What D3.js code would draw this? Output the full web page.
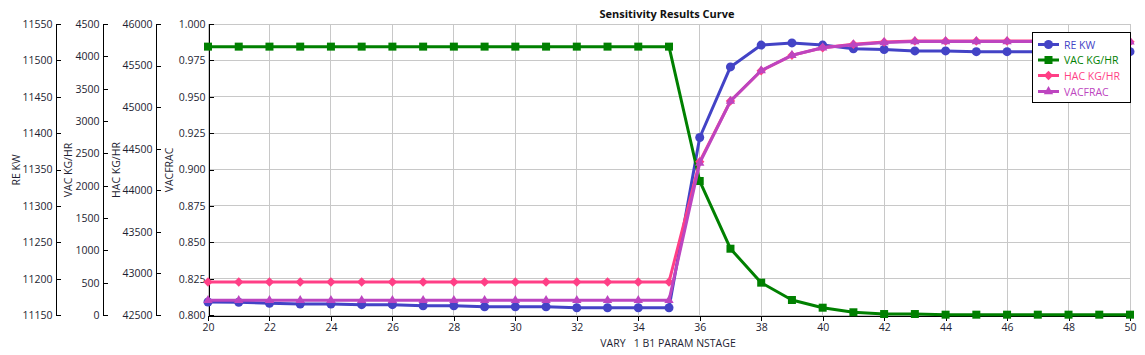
<!DOCTYPE html>
<html>
<head>
<meta charset="utf-8">
<script src="https://cdn.jsdelivr.net/npm/d3@7/dist/d3.min.js"></script>
<style>
  html, body { margin: 0; padding: 0; background: #fff; }
  svg { display: block; font-family: "Open Sans", "Noto Sans", sans-serif; }
</style>
</head>
<body>
<svg id="chart" width="1145" height="355"></svg>
<script>
// ---- data ----
const stages = [20,21,22,23,24,25,26,27,28,29,30,31,32,33,34,35,36,37,38,39,40,41,42,43,44,45,46,47,48,49,50];
const reKW = [11167.9,11167.5,11166.1,11165.1,11165.1,11164.2,11164.2,11162.8,11162.8,11161.4,11161.4,11161.4,11160.0,11160.0,11160.0,11160.0,
              11394,11491,11521,11524,11521,11516,11515,11513,11513,11512,11512,11512,11512,11512,11512];
const vacKG = [4150,4150,4150,4150,4150,4150,4150,4150,4150,4150,4150,4150,4150,4150,4150,4150,
               2072,1025,500,232,113,42,15,15,5,5,5,5,5,5,5];
const hacKG = [42897,42897,42897,42897,42897,42897,42897,42897,42897,42897,42897,42897,42897,42897,42897,42897,
               44344,45074,45438,45623,45715,45756,45784,45796,45796,45796,45796,45796,45796,45796,45787];
const vacFrac = [0.8101,0.8101,0.8101,0.8101,0.8101,0.8101,0.8101,0.8101,0.8101,0.8101,0.8101,0.8101,0.8101,0.8101,0.8101,0.8101,
                 0.9045,0.947,0.968,0.9785,0.9837,0.9858,0.9873,0.9880,0.9880,0.9880,0.9880,0.9880,0.9880,0.9880,0.9878];
const xTicks = [20,22,24,26,28,30,32,34,36,38,40,42,44,46,48,50];
const reTicks = [11150,11200,11250,11300,11350,11400,11450,11500,11550];
const vacTicks = [0,500,1000,1500,2000,2500,3000,3500,4000,4500];
const hacTicks = [42500,43000,43500,44000,44500,45000,45500,46000];
const fracTicks = [0.800,0.825,0.850,0.875,0.900,0.925,0.950,0.975,1.000];
const seriesNames = ["RE KW","VAC KG/HR","HAC KG/HR","VACFRAC"];
const title = "Sensitivity Results Curve";
const xTitle = "VARY   1 B1 PARAM NSTAGE";

// ---- layout ----
const L = 208, R = 1130, T = 24, B = 315;
const svg = d3.select("#chart");
const x = d3.scaleLinear().domain([20,50]).range([L,R]);
const yRE = d3.scaleLinear().domain([11150,11550]).range([B,T]);
const yVAC = d3.scaleLinear().domain([0,4500]).range([B,T]);
const yHAC = d3.scaleLinear().domain([42500,46000]).range([B,T]);
const yFrac = d3.scaleLinear().domain([0.8,1.0]).range([B,T]);

const gridColor = "#c8c8c8";
const textColor = "#1e1e32";
const fs = 10.5;

// grid
const grid = svg.append("g");
grid.selectAll("line.h").data(fracTicks).join("line")
  .attr("x1", L).attr("x2", R)
  .attr("y1", d => yFrac(d)).attr("y2", d => yFrac(d))
  .attr("stroke", gridColor).attr("stroke-width", 1).attr("shape-rendering","crispEdges");
grid.selectAll("line.v").data(xTicks).join("line")
  .attr("y1", T).attr("y2", B)
  .attr("x1", d => x(d)).attr("x2", d => x(d))
  .attr("stroke", gridColor).attr("stroke-width", 1).attr("shape-rendering","crispEdges");

// y axes
function yAxis(scale, ticks, xpos, fmt, label, lx) {
  const g = svg.append("g").attr("transform", `translate(${xpos},0)`)
    .call(d3.axisLeft(scale).tickValues(ticks).tickSize(-5).tickSizeOuter(0).tickPadding(3).tickFormat(fmt));
  g.select(".domain").attr("stroke", "#000").attr("shape-rendering","crispEdges");
  g.selectAll(".tick line").attr("stroke", "#000").attr("shape-rendering","crispEdges");
  g.selectAll("text").attr("fill", textColor).style("font-size", fs + "px").style("font-family", "'Open Sans', sans-serif");
  svg.append("text")
    .attr("transform", `translate(${lx},170) rotate(-90)`)
    .attr("text-anchor", "middle").attr("dominant-baseline", "central")
    .attr("fill", textColor).style("font-size", fs + "px")
    .text(label);
}
yAxis(yRE, reTicks, 55.5, d3.format("d"), "RE KW", 16);
yAxis(yVAC, vacTicks, 102.5, d3.format("d"), "VAC KG/HR", 68);
yAxis(yHAC, hacTicks, 155.5, d3.format("d"), "HAC KG/HR", 116);
yAxis(yFrac, fracTicks, L + 0.5, d3.format(".3f"), "VACFRAC", 169);

// x axis
const gx = svg.append("g").attr("transform", `translate(0,${B + 0.5})`)
  .call(d3.axisBottom(x).tickValues(xTicks).tickSize(5).tickSizeOuter(0).tickPadding(3).tickFormat(d3.format("d")));
gx.select(".domain").attr("stroke", "#000").attr("shape-rendering","crispEdges");
gx.selectAll(".tick line").attr("stroke", "#000").attr("shape-rendering","crispEdges");
gx.selectAll("text").attr("fill", textColor).style("font-size", fs + "px").style("font-family", "'Open Sans', sans-serif");

svg.append("text").attr("x", 668).attr("y", 347).attr("text-anchor", "middle")
  .attr("fill", textColor).style("font-size", fs + "px").attr("xml:space","preserve").style("white-space","pre")
  .text(xTitle);

svg.append("text").attr("x", 667).attr("y", 18).attr("text-anchor", "middle")
  .attr("fill", "#111").style("font-size", "11px").style("font-weight", "bold")
  .text(title);

// series
const colors = ["#4343c6", "#008000", "#ff3f86", "#bd45c0"];
const shapes = [d3.symbolCircle, d3.symbolSquare, d3.symbolDiamond2, d3.symbolTriangle];
const sizes = [64, 64, 56, 38];
const series = [
  { vals: reKW, y: yRE },
  { vals: vacKG, y: yVAC },
  { vals: hacKG, y: yHAC },
  { vals: vacFrac, y: yFrac }
];
const plot = svg.append("g");
series.forEach((s, i) => {
  const pts = stages.map((st, j) => [x(st), s.y(s.vals[j])]);
  plot.append("path").attr("d", d3.line()(pts))
    .attr("fill", "none").attr("stroke", colors[i]).attr("stroke-width", 3).attr("stroke-linejoin", "round");
  plot.selectAll(null).data(pts).join("path")
    .attr("transform", d => `translate(${d[0]},${d[1]})`)
    .attr("d", d3.symbol().type(shapes[i]).size(sizes[i]))
    .attr("fill", colors[i]);
});

// legend
const lg = svg.append("g");
lg.append("rect").attr("x", 1032.5).attr("y", 32.5).attr("width", 98).attr("height", 70)
  .attr("fill", "#fff").attr("stroke", "#000").attr("stroke-width", 1);
const rowY = [44.5, 60, 75.5, 91.5];
seriesNames.forEach((nm, i) => {
  lg.append("line").attr("x1", 1038).attr("x2", 1059).attr("y1", rowY[i]).attr("y2", rowY[i])
    .attr("stroke", colors[i]).attr("stroke-width", 3);
  lg.append("path").attr("transform", `translate(1048.5,${rowY[i]})`)
    .attr("d", d3.symbol().type(shapes[i]).size(sizes[i]))
    .attr("fill", colors[i]);
  lg.append("text").attr("x", 1064).attr("y", rowY[i]).attr("dominant-baseline", "central")
    .attr("fill", colors[i]).style("font-size", fs + "px").text(nm);
});
</script>
</body>
</html>
